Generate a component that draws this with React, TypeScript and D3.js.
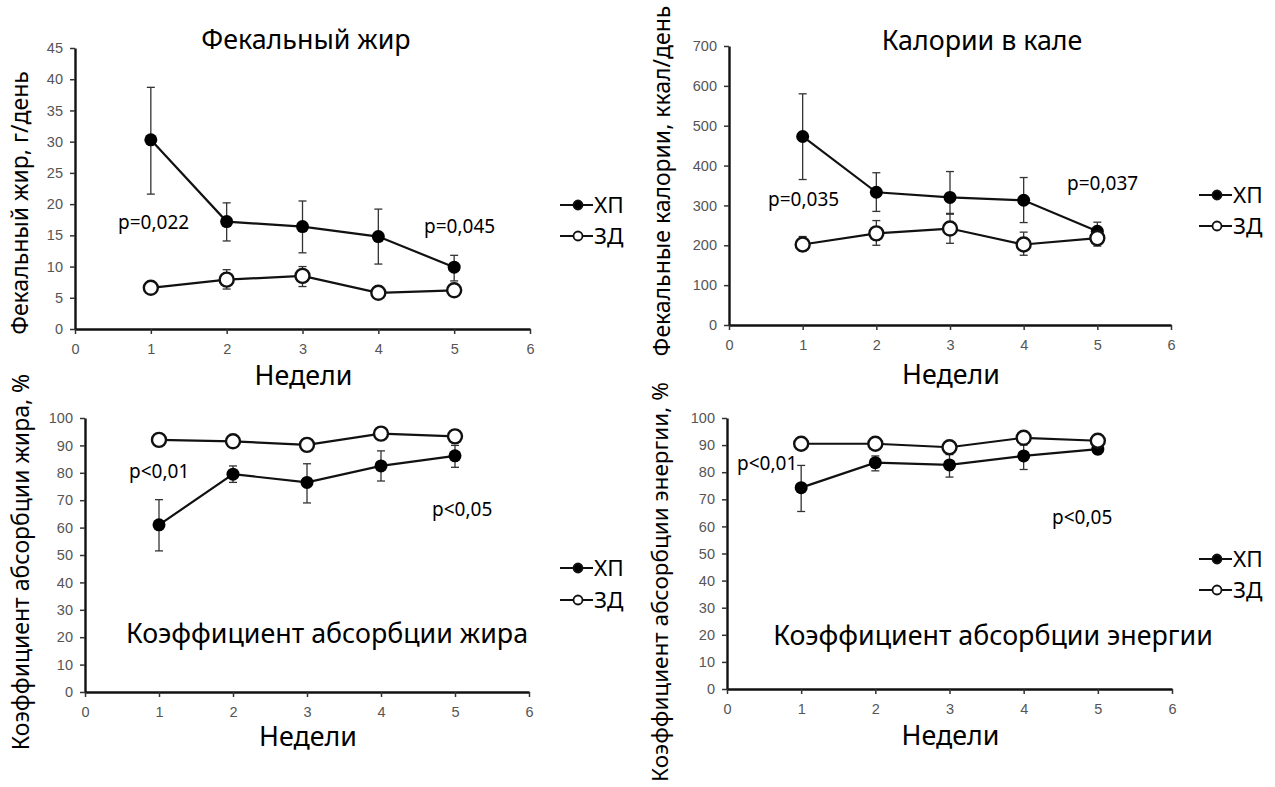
import React, { useEffect, useRef } from "react";
import * as d3 from "d3";

const weeks = [1, 2, 3, 4, 5];
const xTicks = [0, 1, 2, 3, 4, 5, 6];
const seriesNames = ["ХП", "ЗД"];
const xTitle = "Недели";

// Фекальный жир, г/день
const fatHP = [30.3, 17.2, 16.4, 14.8, 9.9];
const fatHPLo = [21.6, 14.1, 12.2, 10.4, 7.7];
const fatHPHi = [38.7, 20.2, 20.5, 19.2, 11.8];
const fatZD = [6.6, 7.9, 8.5, 5.8, 6.2];
const fatZDLo = [6.3, 6.4, 6.8, 5.5, 5.9];
const fatZDHi = [6.9, 9.5, 10.0, 6.1, 6.5];
const fatYTicks = [0, 5, 10, 15, 20, 25, 30, 35, 40, 45];

// Калории в кале, ккал/день
const calHP = [473, 333, 320, 313, 235];
const calHPLo = [365, 285, 278, 257, 215];
const calHPHi = [580, 382, 385, 370, 258];
const calZD = [202, 230, 242, 202, 218];
const calZDLo = [185, 200, 205, 175, 198];
const calZDHi = [222, 262, 280, 233, 235];
const calYTicks = [0, 100, 200, 300, 400, 500, 600, 700];

// Коэффициент абсорбции жира, %
const absFatHP = [61, 79.5, 76.5, 82.5, 86.2];
const absFatHPLo = [51.5, 76.5, 69, 77, 82];
const absFatHPHi = [70.2, 82.5, 83.3, 88, 90];
const absFatZD = [92, 91.5, 90.2, 94.3, 93.3];

// Коэффициент абсорбции энергии, %
const absEnHP = [74.3, 83.5, 82.7, 86, 88.5];
const absEnHPLo = [65.5, 80.5, 78.2, 81, 86.8];
const absEnHPHi = [82.5, 86, 86.5, 90, 90];
const absEnZD = [90.5, 90.5, 89.2, 92.7, 91.6];
const pctYTicks = [0, 10, 20, 30, 40, 50, 60, 70, 80, 90, 100];

const textFont = "'Noto Sans', 'Open Sans', sans-serif";
const tickFont = "'Liberation Sans Narrow', 'Liberation Sans', Arial, sans-serif";

const panels = [
  {
    left: 75, right: 530, bottom: 329, top: 48, yMax: 45, yTicks: fatYTicks,
    hp: fatHP, hpLo: fatHPLo, hpHi: fatHPHi, zd: fatZD, zdLo: fatZDLo, zdHi: fatZDHi,
    title: "Фекальный жир", titleX: 306, titleY: 49,
    yTitle: "Фекальный жир, г/день", yTitleX: 28, yTitleY: 203, yTitleSize: 23,
    xTitleY: 385,
    notes: [["p=0,022", 118, 229], ["p=0,045", 424, 233]],
    legX: 560, legY: 205, legGap: 31,
  },
  {
    left: 729, right: 1171, bottom: 325, top: 46, yMax: 700, yTicks: calYTicks,
    hp: calHP, hpLo: calHPLo, hpHi: calHPHi, zd: calZD, zdLo: calZDLo, zdHi: calZDHi,
    title: "Калории в кале", titleX: 982, titleY: 50,
    yTitle: "Фекальные калории, ккал/день", yTitleX: 670, yTitleY: 181, yTitleSize: 23,
    xTitleY: 384,
    notes: [["p=0,035", 768, 206], ["p=0,037", 1067, 190]],
    legX: 1199, legY: 195, legGap: 31,
  },
  {
    left: 85, right: 529, bottom: 692, top: 418, yMax: 100, yTicks: pctYTicks,
    hp: absFatHP, hpLo: absFatHPLo, hpHi: absFatHPHi, zd: absFatZD, zdLo: null, zdHi: null,
    title: "Коэффициент абсорбции жира", titleX: 327, titleY: 643,
    yTitle: "Коэффициент абсорбции жира, %", yTitleX: 29, yTitleY: 562, yTitleSize: 23,
    xTitleY: 746,
    notes: [["p<0,01", 129, 478], ["p<0,05", 432, 516]],
    legX: 560, legY: 568, legGap: 32,
  },
  {
    left: 727, right: 1172, bottom: 689, top: 418, yMax: 100, yTicks: pctYTicks,
    hp: absEnHP, hpLo: absEnHPLo, hpHi: absEnHPHi, zd: absEnZD, zdLo: null, zdHi: null,
    title: "Коэффициент абсорбции энергии", titleX: 993, titleY: 645,
    yTitle: "Коэффициент абсорбции энергии, %", yTitleX: 668, yTitleY: 582, yTitleSize: 22.5,
    xTitleY: 745,
    notes: [["p<0,01", 737, 470], ["p<0,05", 1052, 524]],
    legX: 1199, legY: 559, legGap: 31,
  },
];

function drawPanel(svg, p) {
  const x = d3.scaleLinear().domain([0, 6]).range([p.left, p.right]);
  const y = d3.scaleLinear().domain([0, p.yMax]).range([p.bottom, p.top]);
  const g = svg.append("g");

  // axes
  const ya = g.append("g")
    .attr("transform", `translate(${p.left},0)`)
    .call(d3.axisLeft(y).tickValues(p.yTicks).tickSize(5).tickSizeOuter(0).tickPadding(7));
  const xa = g.append("g")
    .attr("transform", `translate(0,${p.bottom})`)
    .call(d3.axisBottom(x).tickValues(xTicks).tickFormat(d3.format("d"))
      .tickSize(5).tickSizeOuter(0).tickPadding(10));
  [ya, xa].forEach(a => {
    a.select(".domain").attr("stroke", "#111").attr("stroke-width", 2.4);
    a.selectAll(".tick line").attr("stroke", "#333").attr("stroke-width", 1.5);
    a.selectAll("text")
      .attr("font-family", tickFont)
      .attr("font-size", 14.5)
      .attr("fill", "#555");
  });

  // titles
  g.append("text")
    .attr("x", p.titleX).attr("y", p.titleY)
    .attr("text-anchor", "middle")
    .attr("font-family", textFont).attr("font-size", 26.8)
    .text(p.title);
  g.append("text")
    .attr("x", (p.left + p.right) / 2 + 1).attr("y", p.xTitleY)
    .attr("text-anchor", "middle")
    .attr("font-family", textFont).attr("font-size", 26.8)
    .text(xTitle);
  g.append("text")
    .attr("transform", `translate(${p.yTitleX},${p.yTitleY}) rotate(-90)`)
    .attr("text-anchor", "middle")
    .attr("font-family", textFont).attr("font-size", p.yTitleSize)
    .text(p.yTitle);

  p.notes.forEach(n => {
    g.append("text")
      .attr("x", n[1]).attr("y", n[2])
      .attr("font-family", textFont).attr("font-size", 19)
      .text(n[0]);
  });

  const line = d3.line().x((d, i) => x(weeks[i])).y(d => y(d));

  // error bars
  const drawErr = (lo, hi) => {
    if (!lo) return;
    weeks.forEach((w, i) => {
      const eg = g.append("g").attr("stroke", "#333").attr("stroke-width", 1.3);
      eg.append("line").attr("x1", x(w)).attr("x2", x(w)).attr("y1", y(lo[i])).attr("y2", y(hi[i]));
      eg.append("line").attr("x1", x(w) - 4).attr("x2", x(w) + 4).attr("y1", y(lo[i])).attr("y2", y(lo[i]));
      eg.append("line").attr("x1", x(w) - 4).attr("x2", x(w) + 4).attr("y1", y(hi[i])).attr("y2", y(hi[i]));
    });
  };
  drawErr(p.hpLo, p.hpHi);
  drawErr(p.zdLo, p.zdHi);

  g.append("path").datum(p.hp).attr("d", line)
    .attr("fill", "none").attr("stroke", "#111").attr("stroke-width", 2.2);
  g.append("path").datum(p.zd).attr("d", line)
    .attr("fill", "none").attr("stroke", "#111").attr("stroke-width", 2.2);

  g.selectAll(".hp").data(p.hp).enter().append("circle")
    .attr("cx", (d, i) => x(weeks[i])).attr("cy", d => y(d))
    .attr("r", 6.5).attr("fill", "#000");
  g.selectAll(".zd").data(p.zd).enter().append("circle")
    .attr("cx", (d, i) => x(weeks[i])).attr("cy", d => y(d))
    .attr("r", 7).attr("fill", "#fff").attr("stroke", "#111").attr("stroke-width", 2.4);

  // legend
  seriesNames.forEach((name, k) => {
    const ly = p.legY + k * p.legGap;
    const lg = g.append("g");
    lg.append("line").attr("x1", p.legX).attr("x2", p.legX + 33).attr("y1", ly).attr("y2", ly)
      .attr("stroke", "#111").attr("stroke-width", 2);
    lg.append("circle").attr("cx", p.legX + 18).attr("cy", ly).attr("r", 4.5)
      .attr("fill", k === 0 ? "#000" : "#fff").attr("stroke", "#111").attr("stroke-width", 1.8);
    lg.append("text").attr("x", p.legX + 34).attr("y", ly + 8)
      .attr("font-family", textFont).attr("font-size", 22.5)
      .text(name);
  });
}

export default function App() {
  const ref = useRef(null);
  useEffect(() => {
    const svg = d3.select(ref.current);
    svg.selectAll("*").remove();
    panels.forEach(p => drawPanel(svg, p));
  }, []);
  return (
    <svg ref={ref} width={1275} height={787}
      style={{ position: "absolute", left: 0, top: 0, background: "#fff" }} />
  );
}
